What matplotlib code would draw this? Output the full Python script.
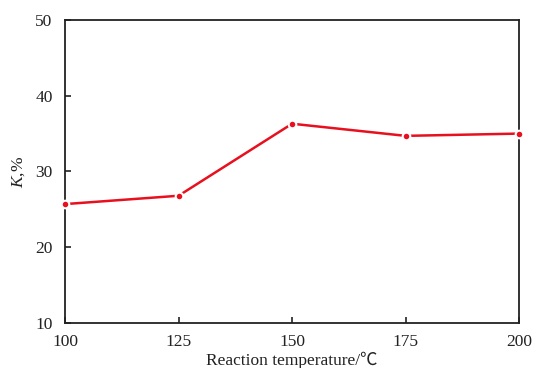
import matplotlib
matplotlib.use("Agg")
import matplotlib.pyplot as plt

temperature = [100, 125, 150, 175, 200]
k_percent = [25.7, 26.8, 36.3, 34.7, 35.0]
x_ticks = [100, 125, 150, 175, 200]
y_ticks = [10, 20, 30, 40, 50]

plt.rcParams['font.family'] = ['Liberation Serif', 'Noto Sans CJK SC', 'DejaVu Sans']
plt.rcParams['mathtext.fontset'] = 'custom'
plt.rcParams['mathtext.it'] = 'Liberation Serif:italic'
plt.rcParams['mathtext.rm'] = 'Liberation Serif'

ink = '#222222'

fig = plt.figure(figsize=(5.33, 3.68), dpi=100)
ax = fig.add_axes([0.122, 0.122, 0.852, 0.824])

ax.plot(temperature, k_percent, color='#e8101e', linewidth=1.8,
        marker='o', markersize=5.5, markerfacecolor='#e8101e',
        markeredgecolor='white', markeredgewidth=1.5, clip_on=False, zorder=3)

ax.set_xlim(100, 200)
ax.set_ylim(10, 50)
ax.set_xticks(x_ticks)
ax.set_yticks(y_ticks)
ax.tick_params(direction='in', length=4, width=1.2, labelsize=12.5, color=ink,
               labelcolor=ink, top=False, right=False)
ax.tick_params(axis='x', pad=8)
ax.tick_params(axis='y', pad=9)
for s in ax.spines.values():
    s.set_linewidth(1.3)
    s.set_color(ink)

ax.set_xlabel('Reaction temperature/℃', fontsize=12.5, color=ink, labelpad=1)
ax.set_ylabel('$K$,%', fontsize=12.5, color=ink, labelpad=6)

fig.savefig('out.png', dpi=100)
